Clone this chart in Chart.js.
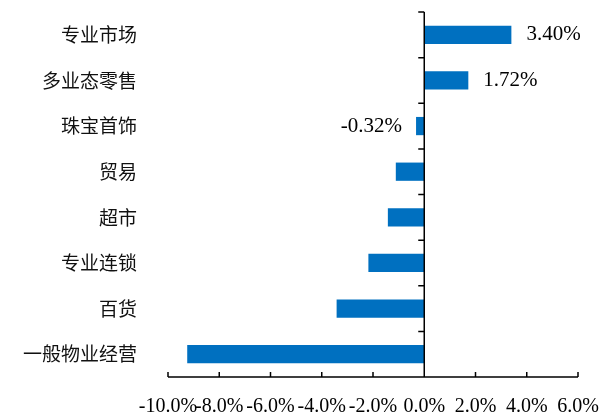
<!DOCTYPE html>
<html>
<head>
<meta charset="utf-8">
<script src="https://cdn.jsdelivr.net/npm/chart.js@4.4.1/dist/chart.umd.min.js"></script>
<style>
	html, body { margin: 0; padding: 0; background: #fff; }
	#wrap { width: 600px; height: 417px; position: relative; }
</style>
</head>
<body>
<div id="wrap"><canvas id="barChart"></canvas></div>
<script>
const categories = ["专业市场", "多业态零售", "珠宝首饰", "贸易", "超市", "专业连锁", "百货", "一般物业经营"];
const values = [3.40, 1.72, -0.32, -1.11, -1.42, -2.18, -3.42, -9.25];
const showValue = [true, true, true, false, false, false, false, false];
const xTicks = [-10, -8, -6, -4, -2, 0, 2, 4, 6];

const serif = "'Liberation Serif', 'Times New Roman', serif";
const cjk = "'Noto Sans CJK SC', sans-serif";

// axes drawn by hand: zero line with left ticks, bottom line with upward ticks
const axisPlugin = {
	id: "excelAxes",
	afterDatasetsDraw(chart) {
		const ctx = chart.ctx;
		const x = chart.scales.x;
		const y = chart.scales.y;
		const area = chart.chartArea;
		const zero = x.getPixelForValue(0);
		const band = (y.bottom - y.top) / categories.length;

		ctx.save();
		ctx.strokeStyle = "#000";
		ctx.lineWidth = 1.5;
		ctx.beginPath();
		ctx.moveTo(zero, area.top);
		ctx.lineTo(zero, area.bottom);
		for (let k = 0; k <= categories.length; k++) {
			const py = y.top + k * band;
			ctx.moveTo(zero - 6, py);
			ctx.lineTo(zero, py);
		}
		ctx.moveTo(area.left, area.bottom);
		ctx.lineTo(area.right, area.bottom);
		xTicks.forEach((t) => {
			const px = x.getPixelForValue(t);
			ctx.moveTo(px, area.bottom);
			ctx.lineTo(px, area.bottom - 5);
		});
		ctx.stroke();

		// value labels
		ctx.fillStyle = "#000";
		ctx.font = "21px " + serif;
		ctx.textBaseline = "middle";
		const meta = chart.getDatasetMeta(0);
		values.forEach((v, i) => {
			if (!showValue[i]) return;
			const bar = meta.data[i];
			const text = v.toFixed(2) + "%";
			if (v >= 0) {
				ctx.textAlign = "left";
				ctx.fillText(text, bar.x + 15, bar.y);
			} else {
				ctx.textAlign = "right";
				ctx.fillText(text, bar.x - 14, bar.y);
			}
		});
		ctx.restore();
	},
};

new Chart(document.getElementById("barChart"), {
	type: "bar",
	data: {
		labels: categories,
		datasets: [
			{
				data: values,
				backgroundColor: "#0070C0",
				borderWidth: 0,
				categoryPercentage: 1,
				barPercentage: 0.4,
			},
		],
	},
	options: {
		indexAxis: "y",
		responsive: true,
		maintainAspectRatio: false,
		animation: false,
		layout: {
			padding: { left: 0, right: 22, top: 12, bottom: 0 },
		},
		plugins: {
			legend: { display: false },
			tooltip: { enabled: false },
		},
		scales: {
			x: {
				min: -10,
				max: 6,
				afterBuildTicks: (scale) => {
					scale.ticks = xTicks.map((v) => ({ value: v }));
				},
				afterFit: (scale) => {
					scale.height = 40;
					scale.paddingLeft = 0;
					scale.paddingRight = 0;
				},
				grid: { display: false, drawTicks: false },
				border: { display: false },
				ticks: {
					autoSkip: false,
					maxRotation: 0,
					minRotation: 0,
					padding: 18,
					color: "#000",
					font: { family: serif, size: 20 },
					callback: (v) => v.toFixed(1) + "%",
				},
			},
			y: {
				afterFit: (scale) => {
					scale.width = 168;
					scale.paddingTop = 0;
					scale.paddingBottom = 0;
				},
				grid: { display: false, drawTicks: false },
				border: { display: false },
				ticks: {
					padding: 31,
					color: "#111",
					font: { family: cjk, size: 19 },
				},
			},
		},
	},
	plugins: [axisPlugin],
});
</script>
</body>
</html>
